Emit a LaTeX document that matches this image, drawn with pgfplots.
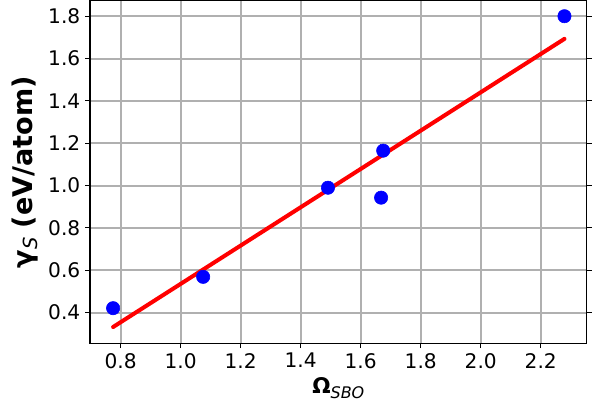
\documentclass[border=0pt]{standalone}
\usepackage{fontspec}
\setmainfont{DejaVu Sans}
\usepackage{pgfplots}
\pgfplotsset{compat=1.18}
\begin{document}
\begin{tikzpicture}
\useasboundingbox (-64.8pt,-45.9pt) rectangle (367.2pt,247.2pt);
\begin{axis}[
  scale only axis,
  width=357.6pt, height=246.5pt,
  at={(0,0)}, anchor=south west,
  xmin=0.698, xmax=2.353,
  ymin=0.255, ymax=1.872,
  xtick={0.8,1.0,...,2.2},
  ytick={0.4,0.6,...,1.8},
  xticklabel style={/pgf/number format/.cd,fixed,fixed zerofill,precision=1},
  yticklabel style={/pgf/number format/.cd,fixed,fixed zerofill,precision=1},
  /pgf/number format/assume math mode=true,
  tick label style={font=\fontsize{14.5}{14.5}\selectfont},
  grid=major,
  grid style={color=black!31, line width=1.45pt},
  axis line style={line width=0.75pt},
  tick align=outside,
  major tick length=3.5pt,
  tick style={black, line width=0.75pt},
  xlabel={\fontsize{15.5}{15.5}\selectfont\textbf{Ω}\raisebox{-0.35ex}{\fontsize{11.5}{11.5}\selectfont\itshape SBO}},
  ylabel={\fontsize{19.5}{19.5}\selectfont\textbf{γ}\raisebox{-0.35ex}{\fontsize{14}{14}\selectfont\itshape S}\textbf{ (eV/atom)}},
  xlabel style={at={(axis description cs:0.5,-0.131)}, anchor=center},
  ylabel style={at={(axis description cs:-0.131,0.5)}, anchor=center, rotate=0},
]
\addplot[red, line width=2.9pt, line cap=round] coordinates {(0.775,0.332) (2.279,1.693)};
\addplot[only marks, mark=*, mark size=4.8pt, color=blue, mark options={fill=blue, draw=blue}] coordinates {
(0.775,0.421) (1.075,0.569) (1.491,0.990) (1.668,0.943) (1.675,1.165) (2.279,1.800)
};
\end{axis}
\end{tikzpicture}
\end{document}
